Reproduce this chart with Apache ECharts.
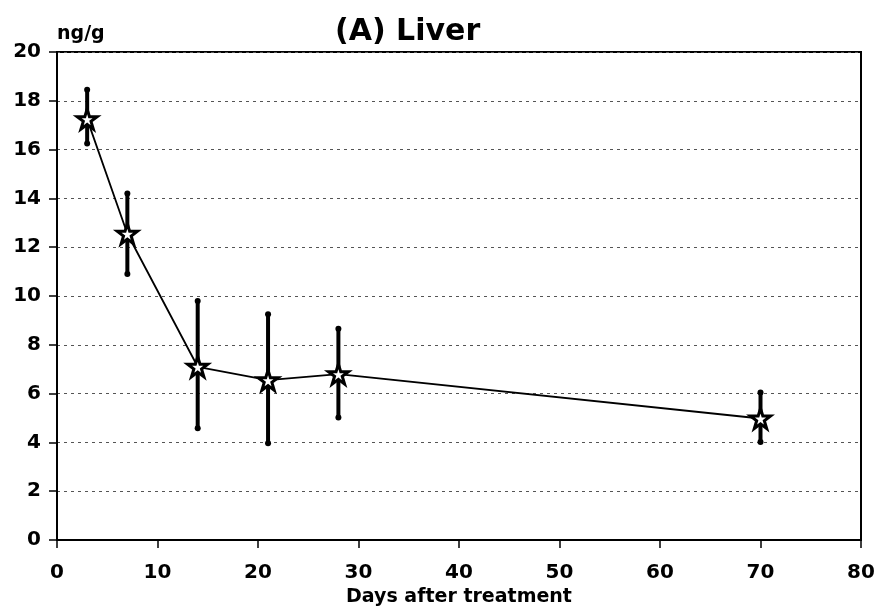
<!DOCTYPE html>
<html>
<head>
<meta charset="utf-8">
<script src="https://cdn.jsdelivr.net/npm/echarts@6/dist/echarts.min.js"></script>
<style>html,body{margin:0;padding:0;background:#fff;}#c{width:879px;height:613px;}</style>
</head>
<body>
<div id="c"></div>
<script>
// Data
const days = [3, 7, 14, 21, 28, 70];
const meanValues = [17.25, 12.55, 7.1, 6.55, 6.8, 4.98];
const errLow = [16.25, 10.9, 4.58, 3.97, 5.02, 4.02];
const errHigh = [18.45, 14.2, 9.8, 9.25, 8.66, 6.04];
const xTicks = [0, 10, 20, 30, 40, 50, 60, 70, 80];
const yTicks = [0, 2, 4, 6, 8, 10, 12, 14, 16, 18, 20];

const meanData = days.map((d, i) => [d, meanValues[i]]);
const errData = days.map((d, i) => [d, errLow[i], errHigh[i]]);

const starPath = 'path://M50,2 L61,36 L97,36 L68,57 L79,92 L50,71 L21,92 L32,57 L3,36 L39,36 Z';

const chart = echarts.init(document.getElementById('c'), null, {renderer: 'canvas'});
chart.setOption({
  backgroundColor: '#fff',
  animation: false,
  title: {
    text: '(A) Liver',
    left: 330,
    top: 12,
    textStyle: {fontFamily: 'DejaVu Sans', fontWeight: 'bold', fontSize: 30, color: '#000'}
  },
  grid: {left: 57, right: 18, top: 52, bottom: 73, show: true, borderColor: '#000', borderWidth: 2, backgroundColor: 'transparent'},
  xAxis: {
    type: 'value', min: xTicks[0], max: xTicks[xTicks.length - 1], interval: 10,
    name: 'Days after treatment', nameLocation: 'middle', nameGap: 48,
    nameTextStyle: {fontFamily: 'DejaVu Sans', fontWeight: 'bold', fontSize: 19, color: '#000'},
    axisLine: {show: true, lineStyle: {color: '#000', width: 2}},
    axisTick: {show: true, inside: false, length: 8, lineStyle: {color: '#000', width: 1.5}},
    axisLabel: {margin: 23, fontFamily: 'DejaVu Sans', fontWeight: 'bold', fontSize: 20, color: '#000'},
    splitLine: {show: false}
  },
  yAxis: {
    type: 'value', min: yTicks[0], max: yTicks[yTicks.length - 1], interval: 2,
    name: 'ng/g', nameLocation: 'end', nameGap: 8,
    nameTextStyle: {fontFamily: 'DejaVu Sans', fontWeight: 'bold', fontSize: 19, color: '#000', align: 'left', verticalAlign: 'bottom'},
    axisLine: {show: true, lineStyle: {color: '#000', width: 2}},
    axisTick: {show: true, inside: false, length: 8, lineStyle: {color: '#000', width: 1.5}},
    axisLabel: {margin: 16, fontFamily: 'DejaVu Sans', fontWeight: 'bold', fontSize: 20, color: '#000'},
    splitLine: {show: true, lineStyle: {color: '#555', width: 1, type: [3, 4]}}
  },
  series: [
    {
      type: 'custom',
      data: errData,
      z: 3,
      renderItem: function (params, api) {
        const x = api.value(0);
        const lo = api.coord([x, api.value(1)]);
        const hi = api.coord([x, api.value(2)]);
        return {
          type: 'group',
          children: [
            {type: 'line', shape: {x1: lo[0], y1: lo[1], x2: hi[0], y2: hi[1]}, style: {stroke: '#000', lineWidth: 4}},
            {type: 'circle', shape: {cx: lo[0], cy: lo[1], r: 3}, style: {fill: '#000'}},
            {type: 'circle', shape: {cx: hi[0], cy: hi[1], r: 3}, style: {fill: '#000'}}
          ]
        };
      }
    },
    {
      type: 'line',
      data: meanData,
      z: 4,
      symbol: starPath,
      symbolSize: 20,
      showAllSymbol: true,
      lineStyle: {color: '#000', width: 1.8},
      itemStyle: {color: '#fff', borderColor: '#000', borderWidth: 3}
    }
  ]
});
</script>
</body>
</html>
